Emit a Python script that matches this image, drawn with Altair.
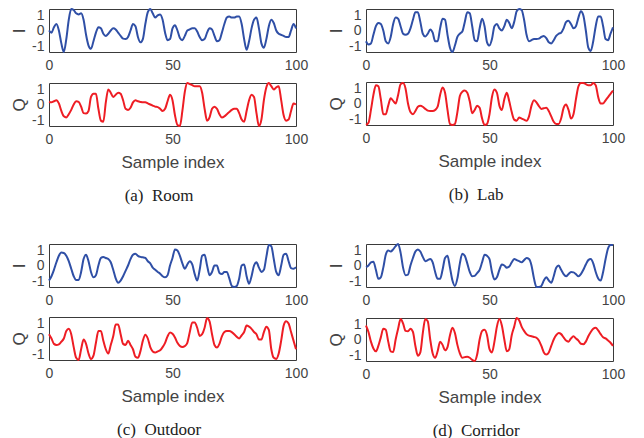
import altair as alt
import pandas as pd

x = list(range(101))

room_i = [0.0, -0.1, 0.15, 0.3, 0.0, -0.6, -1.0, -0.4, 0.5, 1.0,
          0.95, 0.8, 0.75, 0.8, 0.5, -0.2, -0.7, -0.85, -0.5, -0.1,
          0.15, 0.1, -0.15, -0.25, -0.15, 0.0, 0.1, 0.05, -0.1, -0.25,
          -0.38, -0.4, -0.3, 0.0, 0.3, 0.2, -0.3, -0.55, -0.4, 0.3,
          0.85, 1.0, 0.8, 0.6, 0.7, 0.75, 0.5, -0.1, -0.45, -0.4,
          0.1, 0.25, 0.0, -0.35, -0.45, -0.25, 0.0, 0.05, 0.1, 0.1,
          -0.05, -0.3, -0.45, -0.4, -0.1, 0.1, 0.05, -0.25, -0.5, -0.45,
          -0.1, 0.3, 0.6, 0.65, 0.6, 0.6, 0.65, 0.65, 0.3, -0.4,
          -0.9, -0.5, 0.1, 0.5, 0.6, 0.1, -0.6, -0.8, -0.4, 0.2,
          0.5, 0.35, 0.0, -0.15, -0.2, -0.25, -0.3, -0.3, 0.0, 0.3, 0.1]
room_q = [0.12, 0.1, 0.15, 0.2, 0.05, -0.3, -0.55, -0.6, -0.45, -0.25,
          0.0, 0.15, 0.12, -0.1, -0.4, -0.42, -0.3, 0.35, 0.5, 0.5,
          -0.2, -0.75, -0.8, 0.1, 0.7, 0.55, 0.35, 0.45, 0.55, 0.5,
          0.2, -0.2, -0.25, -0.15, 0.1, 0.2, 0.15, 0.12, 0.1, 0.1,
          0.05, 0.0, -0.05, -0.1, -0.12, -0.2, -0.3, -0.2, 0.15, 0.45,
          0.2, -0.5, -0.95, -1.0, -0.3, 0.6, 1.0, 0.95, 0.9, 0.85,
          0.85, 0.85, 0.55, -0.2, -0.75, -0.6, -0.2, -0.1, -0.2, -0.45,
          -0.6, -0.55, -0.45, -0.35, -0.25, -0.2, -0.2, -0.4, -0.7, -0.8,
          -0.3, 0.2, 0.45, 0.35, -0.4, -1.0, -0.7, 0.2, 0.8, 1.0,
          0.85, 0.7, 0.8, 0.85, 0.2, -0.5, -0.75, -0.7, -0.3, 0.05, 0.0]
lab_i = [-0.5, -0.65, -0.6, -0.2, 0.2, 0.35, 0.3, 0.0, -0.5, -0.6,
         -0.3, 0.3, 0.6, 0.55, 0.2, -0.15, -0.2, -0.15, 0.1, 0.5,
         0.85, 0.85, 0.4, -0.15, -0.28, -0.15, 0.05, -0.1, -0.5, -0.5,
         0.1, 0.55, 0.5, -0.2, -0.8, -1.0, -0.7, -0.3, -0.15, -0.05,
         0.4, 0.85, 0.8, 0.2, -0.45, -0.5, 0.1, 0.55, 0.2, -0.55,
         -0.7, -0.4, 0.2, 0.3, 0.1, 0.0, 0.2, 0.5, 0.35, 0.1,
         0.4, 0.9, 1.0, 0.95, 0.5, -0.2, -0.5, -0.45, -0.4, -0.4,
         -0.38, -0.3, -0.25, -0.35, -0.55, -0.6, -0.45, -0.25, -0.15, -0.1,
         0.1, 0.4, 0.45, 0.3, 0.1, 0.2, 0.6, 0.9, 0.7, 0.0,
         -0.8, -0.95, -0.5, 0.2, 0.65, 0.65, 0.2, -0.4, -0.45, -0.15, 0.15]
lab_q = [-1.0, -0.9, -0.3, 0.4, 0.85, 0.8, 0.2, -0.5, -0.5, -0.1,
         0.25, 0.12, 0.0, 0.4, 0.9, 0.95, 0.7, 0.0, -0.4, -0.5,
         -0.35, -0.15, -0.1, -0.15, -0.25, -0.33, -0.35, -0.35, -0.3, -0.15,
         0.4, 0.75, 0.5, -0.3, -0.95, -1.0, -0.95, -0.4, 0.35, 0.55,
         0.6, 0.5, 0.1, -0.45, -0.3, -0.1, -0.2, -0.7, -1.0, -0.95,
         -0.5, 0.3, 0.65, 0.5, -0.1, -0.3, 0.2, 0.5, 0.1, -0.4,
         -0.75, -0.8, -0.65, -0.7, -0.75, -0.8, -0.6, -0.1, 0.15, 0.05,
         -0.12, -0.25, -0.22, -0.2, -0.35, -0.6, -0.85, -0.95, -0.95, -0.7,
         -0.2, -0.05, -0.3, -0.7, -0.5, 0.2, 0.8, 0.95, 0.95, 0.9,
         0.85, 0.85, 0.95, 0.85, 0.3, 0.0, 0.0, 0.15, 0.3, 0.45, 0.6]
out_i = [-0.7, -0.5, -0.2, 0.15, 0.45, 0.6, 0.58, 0.45, 0.2, -0.15,
         -0.5, -0.68, -0.68, -0.3, 0.3, 0.5, 0.2, -0.3, -0.55, -0.45,
         0.0, 0.35, 0.4, 0.35, 0.3, 0.15, -0.2, -0.6, -0.8, -0.7,
         -0.5, -0.25, 0.0, 0.3, 0.5, 0.55, 0.45, 0.4, 0.38, 0.35,
         0.2, 0.1, -0.1, -0.2, -0.3, -0.38, -0.5, -0.55, -0.45, 0.0,
         0.35, 0.75, 0.7, 0.45, 0.1, -0.15, 0.05, 0.2, 0.05, -0.4,
         -0.7, -0.2, 0.45, 0.5, 0.0, -0.45, -0.3, 0.0, 0.0, -0.35,
         -0.4, -0.3, -0.3, -0.6, -0.95, -1.0, -0.95, -0.6, 0.0, 0.05,
         -0.5, -0.85, -0.5, 0.0, 0.15, -0.1, -0.3, -0.2, 0.4, 0.95,
         0.9, 0.3, -0.3, -0.45, 0.0, 0.5, 0.55, 0.2, -0.12, -0.15, -0.08]
out_q = [0.2, 0.0, -0.25, -0.3, -0.27, -0.15, 0.0, 0.35, 0.45, 0.2,
         -0.4, -0.9, -1.0, -0.5, -0.05, -0.25, -0.7, -0.95, -0.8, -0.2,
         0.35, 0.35, -0.1, -0.5, -0.7, -0.3, 0.1, 0.65, 0.65, 0.2,
         -0.25, -0.3, -0.1, -0.3, -0.5, -0.85, -0.9, -0.6, -0.1, 0.18,
         0.0, -0.4, -0.6, -0.65, -0.6, -0.55, -0.4, -0.2, 0.1, 0.28,
         0.22, 0.05, -0.2, -0.35, -0.4, -0.35, -0.2, 0.3, 0.75, 0.75,
         0.5, 0.12, 0.2, 0.5, 0.95, 0.8, 0.2, -0.3, -0.42, -0.25,
         0.1, 0.3, 0.35, 0.35, 0.3, 0.2, 0.08, 0.0, 0.15, 0.3,
         0.6, 0.55, 0.45, 0.3, 0.2, -0.05, -0.05, 0.3, 0.55, 0.4,
         -0.5, -0.9, -0.95, -0.7, -0.1, 0.6, 0.8, 0.7, 0.3, -0.1, -0.5]
cor_i = [-0.07, 0.0, 0.15, 0.18, -0.2, -0.62, -0.55, -0.1, 0.5, 0.7,
         0.65, 0.75, 0.9, 1.0, 0.6, -0.1, -0.45, -0.42, 0.0, 0.35,
         0.65, 0.75, 0.65, 0.4, 0.2, 0.25, 0.3, 0.15, -0.3, -0.62,
         -0.62, -0.2, 0.35, 0.45, -0.1, -0.7, -0.95, -0.6, 0.1, 0.55,
         0.45, 0.1, -0.3, -0.5, -0.48, -0.35, -0.2, 0.15, 0.5, 0.45,
         0.3, -0.3, -0.65, -0.55, -0.2, 0.05, 0.0, -0.1, -0.05, 0.15,
         0.3, 0.25, 0.2, 0.15, 0.25, 0.35, 0.3, 0.0, -0.6, -1.0,
         -1.0, -0.95, -0.7, -0.55, -0.7, -0.8, -0.5, -0.1, 0.0, -0.2,
         -0.4, -0.5, -0.4, -0.3, -0.32, -0.4, -0.5, -0.4, -0.2, 0.05,
         0.25, 0.3, 0.1, -0.3, -0.6, -0.7, -0.3, 0.3, 0.8, 0.95, 0.95]
cor_q = [0.65, 0.35, -0.1, -0.42, -0.55, -0.3, 0.1, 0.5, 0.45, -0.1,
         -0.55, -0.58, 0.0, 0.5, 0.95, 0.75, 0.4, 0.38, 0.5, 0.35,
         -0.3, -0.75, -0.6, 0.3, 0.95, 0.85, 0.0, -0.65, -0.85, -0.55,
         -0.1, -0.25, -0.5, -0.35, 0.2, 0.55, 0.3, -0.25, -0.65, -0.85,
         -0.82, -0.8, -0.85, -0.95, -1.0, -0.7, 0.0, 0.4, 0.45, 0.2,
         -0.45, -0.6, -0.1, 0.6, 0.95, 0.65, 0.0, -0.55, -0.45, 0.2,
         0.6, 1.0, 0.9, 0.6, 0.4, 0.25, 0.18, 0.15, 0.12, 0.08,
         -0.05, -0.3, -0.6, -0.7, -0.6, -0.3, 0.0, 0.2, 0.3, 0.25,
         0.1, -0.05, -0.1, 0.05, 0.15, 0.05, -0.05, -0.2, -0.22, -0.1,
         0.15, 0.35, 0.5, 0.55, 0.42, 0.25, 0.1, 0.05, -0.05, -0.15, -0.3]

x_ticks = [0, 50, 100]
y_ticks = [-1, 0, 1]
captions = ["(a)\u00a0 Room", "(b)\u00a0 Lab", "(c)\u00a0 Outdoor", "(d)\u00a0 Corridor"]

BLUE = "#2f4fa6"
RED = "#ee1d24"
TXT = "#444444"
W, H = 247, 43


def sub(vals, color, ytitle, xtitle=None):
    df = pd.DataFrame({"x": x, "v": vals})
    xax = dict(values=x_ticks, grid=False, domain=False, ticks=False, format="d",
               labelPadding=6, labelFlush=False, labelOverlap=False, titlePadding=8)
    xax["title"] = xtitle
    return alt.Chart(df).mark_line(color=color, strokeWidth=2, interpolate="monotone").encode(
        x=alt.X("x:Q", scale=alt.Scale(domain=[0, 100], nice=False), axis=alt.Axis(**xax)),
        y=alt.Y("v:Q", scale=alt.Scale(domain=[-1, 1], nice=False),
                axis=alt.Axis(values=y_ticks, title=ytitle, grid=False, domain=False, ticks=False,
                              labelPadding=5, titlePadding=3,
                              labelFlush=True, labelFlushOffset=1, labelOverlap=False,
                              labelExpr="(datum.value < 0 ? '-' : '') + abs(datum.value)")),
    ).properties(width=W, height=H)


def panel(iv, qv, cap):
    return alt.vconcat(
        sub(iv, BLUE, "I"), sub(qv, RED, "Q", "Sample index"), spacing=5
    ).properties(title=alt.TitleParams(cap, orient="bottom", anchor="middle", frame="bounds",
                                       font="Liberation Serif", fontSize=17, fontWeight="normal",
                                       color="#222222", offset=17))


row1 = alt.hconcat(panel(room_i, room_q, captions[0]), panel(lab_i, lab_q, captions[1]), spacing=18)
row2 = alt.hconcat(panel(out_i, out_q, captions[2]), panel(cor_i, cor_q, captions[3]), spacing=18)

chart = alt.vconcat(row1, row2, spacing=35).properties(
    padding={"left": 2, "top": -4, "right": 0, "bottom": 0}
).configure_view(stroke="#3a3a3a", strokeWidth=1).configure_axis(
    labelFont="Liberation Sans", labelFontSize=14, labelColor=TXT,
    titleFont="Liberation Sans", titleFontSize=17, titleColor=TXT, titleFontWeight="normal"
)

chart.save("out.html", embed_options={"renderer": "svg", "actions": False})
